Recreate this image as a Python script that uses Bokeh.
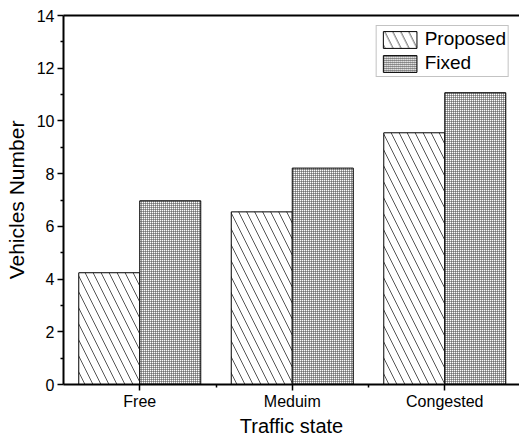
from bokeh.plotting import figure
from bokeh.models import (FixedTicker, LinearAxis, Legend, LegendItem, ColumnDataSource)
from bokeh.embed import file_html
from bokeh.resources import INLINE

# Data
categories = ["Free", "Meduim", "Congested"]
proposed = [4.24, 6.55, 9.55]
fixed = [6.97, 8.21, 11.07]
y_ticks = [0, 2, 4, 6, 8, 10, 12, 14]

FONT = "Liberation Sans"
bar_w = 0.4
xpos = [i + 1 for i in range(len(categories))]

src = ColumnDataSource(dict(
    x_prop=[x - bar_w / 2 for x in xpos],
    x_fix=[x + bar_w / 2 for x in xpos],
    proposed=proposed,
    fixed=fixed,
))

p = figure(width=519, height=440, output_backend="svg", toolbar_location=None,
           x_range=(0.5, 3.49), y_range=(0, 14),
           min_border_left=63, min_border_right=0, min_border_top=15,
           min_border_bottom=56)
p.outline_line_color = None
p.xgrid.visible = False
p.ygrid.visible = False
p.background_fill_color = "white"
p.border_fill_color = "white"

r_prop = p.vbar(x="x_prop", top="proposed", width=bar_w, bottom=0, source=src,
                fill_color="white", line_color="black", line_width=1,
                hatch_pattern="left_diagonal_line", hatch_scale=16,
                hatch_color="#555555", hatch_weight=1)
r_fix = p.vbar(x="x_fix", top="fixed", width=bar_w, bottom=0, source=src,
               fill_color="white", line_color="black", line_width=1,
               hatch_pattern="cross", hatch_scale=2,
               hatch_color="#444444", hatch_weight=1)

# x axis
xa = p.xaxis[0]
xa.ticker = FixedTicker(ticks=xpos, minor_ticks=[1.5, 2.5])
xa.major_label_overrides = {x: c for x, c in zip(xpos, categories)}
xa.axis_label = "Traffic state"

# y axis
ya = p.yaxis[0]
ya.ticker = FixedTicker(ticks=y_ticks, minor_ticks=[1, 3, 5, 7, 9, 11, 13])
ya.axis_label = "Vehicles Number"

for ax in (xa, ya):
    ax.axis_line_width = 2
    ax.axis_line_color = "black"
    ax.major_tick_line_color = "black"
    ax.major_tick_line_width = 1.5
    ax.minor_tick_line_color = "black"
    ax.minor_tick_line_width = 1.5
    ax.major_tick_in = 0
    ax.major_tick_out = 6
    ax.minor_tick_in = 0
    ax.minor_tick_out = 3
    ax.major_label_text_font = FONT
    ax.major_label_text_font_size = "16px"
    ax.major_label_text_color = "black"
    ax.axis_label_text_font = FONT
    ax.axis_label_text_font_style = "normal"
    ax.axis_label_text_color = "black"

xa.axis_label_text_font_size = "20px"
ya.axis_label_text_font_size = "21px"
xa.major_label_standoff = 2
xa.axis_label_standoff = 2
ya.major_label_standoff = 3
ya.axis_label_standoff = 6

# top spine
top = LinearAxis(ticker=FixedTicker(ticks=[]), major_label_text_font_size="0px",
                 major_tick_line_color=None, minor_tick_line_color=None,
                 axis_line_width=2, axis_line_color="black")
p.add_layout(top, "above")

legend = Legend(items=[LegendItem(label="Proposed", renderers=[r_prop]),
                       LegendItem(label="Fixed", renderers=[r_fix])],
                location="top_right")
legend.label_text_font = FONT
legend.label_text_font_size = "19px"
legend.label_text_color = "black"
legend.glyph_width = 42
legend.glyph_height = 21
legend.spacing = 2
legend.padding = 2
legend.margin = 10
legend.label_standoff = 4
legend.border_line_color = "#888888"
legend.border_line_width = 1
legend.background_fill_alpha = 1
p.add_layout(legend)

open("out.html", "w").write(file_html(p, INLINE))
